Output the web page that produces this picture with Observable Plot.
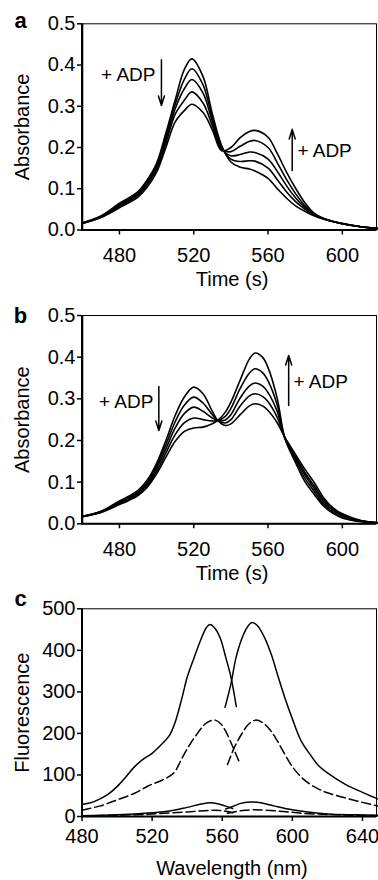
<!DOCTYPE html>
<html><head><meta charset="utf-8">
<script src="https://cdn.jsdelivr.net/npm/d3@7"></script>
<script src="https://cdn.jsdelivr.net/npm/@observablehq/plot@0.6"></script>
<style>
body{margin:0;background:#fff;}
#wrap{position:relative;width:378px;height:880px;overflow:hidden;background:#fff;}
#wrap svg{position:absolute;left:0;}
</style></head><body><div id="wrap"></div>
<script>
// ---------- Panel a (absorbance, Time (s)) ----------
const xA = [460, 470, 480, 485, 490, 495, 500, 505, 510, 515, 519, 525, 530, 535, 540, 545, 550, 553, 560, 565, 570, 575, 580, 585, 590, 600, 610, 620];
const a0 = [.017, .034, .065, .078, .093, .122, .162, .235, .315, .39, .415, .372, .282, .205, .165, .152, .148, .143, .125, .1, .077, .058, .045, .034, .026, .015, .008, .003];
const a1 = [.017, .033, .062, .075, .09, .118, .157, .227, .305, .366, .391, .352, .272, .201, .172, .166, .168, .167, .15, .122, .092, .068, .05, .036, .027, .015, .008, .003];
const a2 = [.017, .032, .06, .072, .087, .114, .152, .219, .294, .343, .365, .332, .263, .198, .18, .183, .189, .188, .172, .142, .107, .077, .054, .037, .027, .015, .008, .003];
const a3 = [.016, .031, .057, .069, .084, .11, .146, .21, .281, .315, .335, .308, .253, .195, .19, .203, .215, .217, .2, .163, .122, .087, .058, .038, .027, .015, .008, .003];
const a4 = [.016, .03, .054, .066, .08, .104, .14, .2, .262, .29, .305, .285, .243, .192, .2, .224, .239, .2415, .225, .185, .14, .1, .065, .04, .028, .016, .008, .003];

// ---------- Panel b ----------
const xB = [460, 470, 480, 485, 490, 495, 500, 505, 510, 515, 520, 525, 530, 533, 537, 540, 545, 550, 553, 557, 560, 565, 569, 575, 580, 585, 590, 595, 600, 610, 620];
const b0 = [.018, .03, .055, .066, .08, .105, .145, .2, .26, .305, .328, .312, .27, .248, .236, .24, .262, .283, .288, .283, .272, .242, .208, .165, .13, .098, .062, .038, .024, .008, .002];
const b1 = [.018, .029, .053, .064, .077, .1, .139, .19, .245, .285, .304, .29, .262, .248, .242, .25, .283, .307, .312, .306, .293, .255, .207, .16, .122, .09, .057, .035, .021, .007, .002];
const b2 = [.018, .029, .051, .061, .074, .096, .133, .18, .23, .265, .28, .27, .254, .248, .249, .262, .302, .331, .338, .331, .315, .269, .207, .157, .116, .084, .052, .032, .019, .007, .002];
const b3 = [.017, .028, .048, .058, .071, .092, .126, .17, .214, .243, .254, .25, .247, .248, .258, .277, .325, .362, .372, .363, .343, .284, .206, .151, .108, .077, .047, .028, .016, .006, .002];
const b4 = [.017, .027, .046, .056, .068, .088, .12, .16, .198, .222, .23, .232, .24, .248, .268, .292, .345, .396, .41, .4, .375, .3, .206, .145, .1, .07, .042, .025, .014, .005, .002];

// ---------- Panel c (fluorescence) ----------
const xSolidL = [480, 485, 490, 495, 500, 505, 510, 515, 520, 525, 530, 533, 537, 540, 544, 548, 551, 553, 556, 559, 562, 565, 568];
const ySolidL = [29, 33, 42, 54, 72, 95, 120, 138, 152, 172, 196, 225, 285, 335, 383, 428, 455, 462, 452, 428, 383, 335, 265];
const xSolidR = [561.6, 565, 568, 572, 575, 577, 580, 584, 588, 592, 596, 600, 605, 610, 615, 620, 630, 640, 650];
const ySolidR = [263, 320, 385, 437, 460, 467, 460, 432, 390, 335, 282, 235, 182, 150, 122, 105, 78, 58, 40];
const xDashL = [480, 490, 500, 510, 518, 525, 530, 533, 537, 541, 545, 550, 553, 556, 559, 562, 566, 570];
const yDashL = [15, 25, 40, 56, 74, 86, 97, 108, 140, 170, 195, 222, 230, 232, 224, 205, 168, 128];
const xDashR = [563, 567, 571, 575, 579, 583, 587, 591, 595, 600, 605, 610, 615, 620, 630, 640, 650];
const yDashR = [125, 167, 198, 222, 232, 226, 210, 185, 155, 120, 95, 78, 66, 57, 45, 34, 24];
const xSmallSolidL = [480, 500, 520, 530, 540, 548, 553, 558, 562, 566];
const ySmallSolidL = [2, 4, 9, 13, 22, 30, 33, 30, 25, 19];
const xSmallSolidR = [562, 566, 570, 576, 582, 590, 600, 610, 620, 635, 650];
const ySmallSolidR = [18, 24, 31, 35, 33, 25, 16, 10, 6, 4, 3];
const xSmallDashL = [480, 500, 520, 540, 550, 555, 560, 566];
const ySmallDashL = [1, 3, 6, 11, 14, 15, 14, 9];
const xSmallDashR = [563, 568, 573, 578, 585, 595, 605, 620, 635, 650];
const ySmallDashR = [8, 12, 15, 16, 15, 12, 8, 5, 3, 2];

// ---------- ticks & annotations ----------
const xTicksAB = [480, 520, 560, 600];
const yTicksAB = [0, 0.1, 0.2, 0.3, 0.4, 0.5];
const xTicksC = [480, 520, 560, 600, 640];
const yTicksC = [0, 100, 200, 300, 400, 500];
const annA_end = [{x: 499.4, y: 0.375, t: "+ ADP"}];
const annA_start = [{x: 575.8, y: 0.193, t: "+ ADP"}];
const arrA = [{x: 502.6, y1: 0.413, y2: 0.302}, {x: 573, y1: 0.1445, y2: 0.244}];
const annB_end = [{x: 498.3, y: 0.2936, t: "+ ADP"}];
const annB_start = [{x: 573.7, y: 0.3416, t: "+ ADP"}];
const arrB = [{x: 501.2, y1: 0.3296, y2: 0.224}, {x: 571.1, y1: 0.284, y2: 0.404}];

const ser = (xs, ys, s) => xs.map((x, i) => ({x, y: ys[i], s}));
const FONT = "'Liberation Sans', Arial, Helvetica, sans-serif";
const FS = 20;

function panel(o) {
  return Plot.plot({
    width: 378, height: o.height,
    marginLeft: 81, marginRight: 2, marginTop: o.mt, marginBottom: o.mb,
    style: {fontFamily: FONT, fontSize: FS + "px", color: "black", background: "transparent", overflow: "visible"},
    x: {domain: o.xDomain, range: o.xRange},
    y: {domain: o.yDomain},
    marks: [
      Plot.frame({stroke: "black", strokeWidth: 1}),
      Plot.axisX({ticks: o.xTicks, tickSize: 5, tickPadding: o.xPad, fontSize: FS, label: null, strokeWidth: 1.5}),
      Plot.axisY({ticks: o.yTicks, tickFormat: o.yFmt, tickSize: 4, tickPadding: 2, fontSize: FS, label: null, strokeWidth: 1.5}),
      Plot.ruleX([o.xDomain[0]], {strokeWidth: 2}),
      Plot.ruleY([0], {strokeWidth: 2}),
      ...o.marks,
      Plot.text([o.yLabel], {frameAnchor: "left", dx: -59, rotate: -90, fontSize: FS, textAnchor: "middle", lineAnchor: "middle"}),
      Plot.text([o.xLabel], {frameAnchor: "bottom", dx: 3, dy: o.labelDy, fontSize: FS, textAnchor: "middle", lineAnchor: "middle"}),
      Plot.text([o.letter], {frameAnchor: "top-left", dx: -61, dy: o.letterDy, fontSize: 22, fontWeight: "bold", textAnchor: "middle", lineAnchor: "middle"})
    ]
  });
}

function annMarks(annEnd, annStart, arr) {
  return [
    Plot.text(annEnd, {x: "x", y: "y", text: "t", textAnchor: "end", fontSize: 19, lineAnchor: "middle"}),
    Plot.text(annStart, {x: "x", y: "y", text: "t", textAnchor: "start", fontSize: 19, lineAnchor: "middle"}),
    Plot.arrow(arr, {x1: "x", x2: "x", y1: "y1", y2: "y2", headLength: 10, headAngle: 35, strokeWidth: 1.5, stroke: "black"})
  ];
}

const dataA = [a0, a1, a2, a3, a4].flatMap((ys, i) => ser(xA, ys, "a" + i));
const dataB = [b0, b1, b2, b3, b4].flatMap((ys, i) => ser(xB, ys, "b" + i));
const solidC = [
  ...ser(xSolidL, ySolidL, "sl"), ...ser(xSolidR, ySolidR, "sr"),
  ...ser(xSmallSolidL, ySmallSolidL, "ssl"), ...ser(xSmallSolidR, ySmallSolidR, "ssr")
];
const dashC = [
  ...ser(xDashL, yDashL, "dl"), ...ser(xDashR, yDashR, "dr"),
  ...ser(xSmallDashL, ySmallDashL, "sdl"), ...ser(xSmallDashR, ySmallDashR, "sdr")
];

const pA = panel({
  height: 290, mt: 23.3, mb: 60.5, xDomain: [460, 620], xRange: [81.8, 379],
  yDomain: [0, 0.5], xTicks: xTicksAB, yTicks: yTicksAB, yFmt: ".1f", xPad: 13, labelDy: 50,
  xLabel: "Time (s)", yLabel: "Absorbance", letter: "a", letterDy: -3,
  marks: [
    Plot.line(dataA, {x: "x", y: "y", z: "s", curve: "catmull-rom", stroke: "black", strokeWidth: 1.6}),
    ...annMarks(annA_end, annA_start, arrA)
  ]
});
const pB = panel({
  height: 290, mt: 25, mb: 56.7, xDomain: [460, 620], xRange: [81.8, 379],
  yDomain: [0, 0.5], xTicks: xTicksAB, yTicks: yTicksAB, yFmt: ".1f", xPad: 13, labelDy: 50,
  xLabel: "Time (s)", yLabel: "Absorbance", letter: "b", letterDy: 0,
  marks: [
    Plot.line(dataB, {x: "x", y: "y", z: "s", curve: "catmull-rom", stroke: "black", strokeWidth: 1.6}),
    ...annMarks(annB_end, annB_start, arrB)
  ]
});
const pC = panel({
  height: 300, mt: 28.3, mb: 64, xDomain: [480, 650], xRange: [81.5, 379.5],
  yDomain: [0, 500], xTicks: xTicksC, yTicks: yTicksC, yFmt: "d", xPad: 7, labelDy: 52,
  xLabel: "Wavelength (nm)", yLabel: "Fluorescence", letter: "c", letterDy: -10,
  marks: [
    Plot.line(solidC, {x: "x", y: "y", z: "s", curve: "catmull-rom", stroke: "black", strokeWidth: 1.5}),
    Plot.line(dashC, {x: "x", y: "y", z: "s", curve: "catmull-rom", stroke: "black", strokeWidth: 1.5, strokeDasharray: "9,4"})
  ]
});

const wrap = document.getElementById("wrap");
[[pC, 580], [pB, 290], [pA, 0]].forEach(([p, t]) => { p.style.top = t + "px"; wrap.appendChild(p); });
</script></body></html>
